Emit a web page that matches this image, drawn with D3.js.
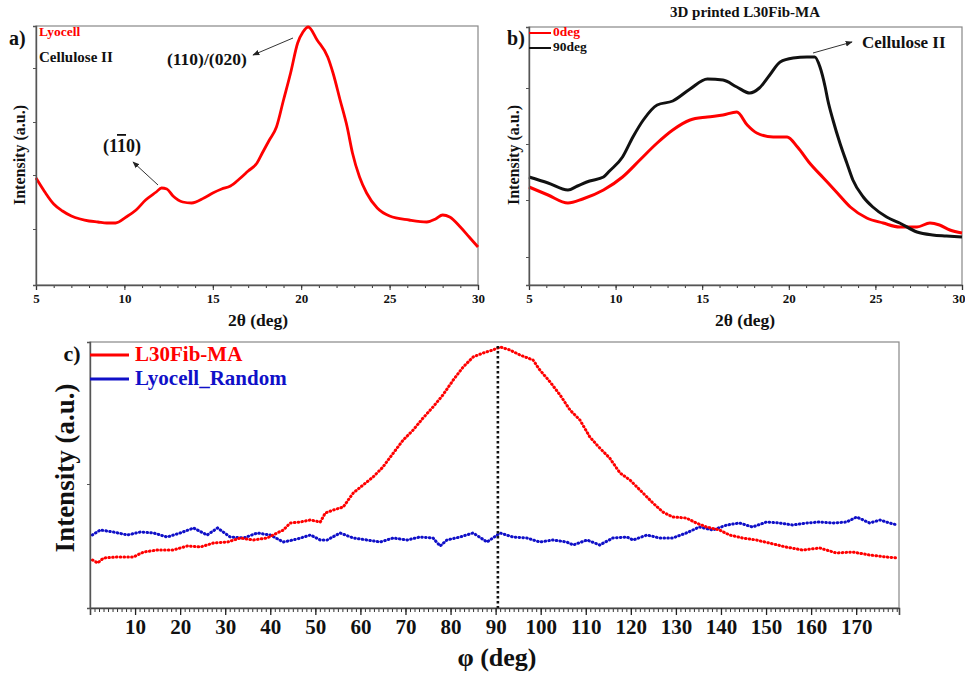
<!DOCTYPE html>
<html><head><meta charset="utf-8">
<script src="https://cdn.jsdelivr.net/npm/d3@7/dist/d3.min.js"></script>
<style>
body{margin:0;background:#fff;}
text{font-family:"Liberation Serif","Times New Roman",serif;font-weight:bold;}
</style></head>
<body><svg id="chart" width="965" height="676"></svg>
<script>
// ---------- DATA ----------
// Panel a: Lyocell XRD (2θ in deg, intensity a.u.)
const aTheta = [5.0,5.5,6.0,6.5,7.0,7.5,8.0,8.5,9.0,9.5,10.1,10.66,11.2,11.8,12.1,12.4,12.75,13.3,13.8,14.5,15.0,15.5,16.0,16.5,17.0,17.5,17.8,18.2,18.6,19.0,19.4,19.8,20.1,20.4,20.9,21.5,21.8,22.2,22.6,22.9,23.3,23.7,24.3,25.0,26.1,27.1,27.6,28.0,28.4,29.0,29.5,30.0];
const aLyocell = [107,93,81,74,69,66,64,63,62,62,68,75,85,93,97,96,89,83,82,87,92,96,99,106,114,122,132,145,158,185,212,242,253,258,245,228,212,185,158,132,108,92,77,69,65,63,66,70,68,58,48,38];
const aYTicks = [56,110,163,217];

// Panel b: 3D printed L30Fib-MA
const bThetaBlack = [5.0,6.1,7.25,7.8,8.5,9.3,9.65,10.4,11.0,11.6,12.4,13.3,14.3,15.3,16.2,17.0,17.75,18.3,18.9,19.5,20.25,21.05,21.5,21.8,22.1,22.25,22.55,22.95,23.35,23.7,24.3,24.85,25.65,26.4,27.4,28.3,29.1,30.0];
const b90deg = [108,102,95,99,104,108,114,128,148,165,180,184,196,206,205,198,192,197,210,223,227,228,228,218,198,185,165,142,122,105,88,78,68,62,53,50,49,48];
const bThetaRed = [5.0,6.1,7.25,8.1,9.3,10.4,11.4,12.4,13.3,14.3,15.3,16.2,17.0,17.6,18.15,19.1,19.9,20.5,21.2,22.0,22.8,23.55,24.5,25.45,26.4,27.4,28.15,28.7,29.3,30.0];
const b0deg = [98,90,82,86,95,108,125,142,155,165,168,170,173,160,152,148,148,138,122,107,92,78,67,62,58,58,62,60,55,52];
const bYTicks = [28,85,141,197];

// Panel c: azimuthal profiles (φ in deg)
const cPhiRed = [0.55,1.7,3.0,6.1,9.6,11.9,15.0,18.5,21.6,24.5,27.4,30.5,33.4,36.2,39.3,41.5,42.9,44.4,46.6,48.9,51.1,52.2,54.0,56.2,58.4,60.6,62.8,65.0,67.3,69.5,71.7,73.9,76.1,78.3,80.6,82.8,85.0,87.2,89.4,91.0,93.2,95.4,98.3,99.8,102.1,104.3,106.5,108.7,110.9,113.1,115.3,117.6,119.8,122.7,124.9,127.1,129.3,132.3,134.5,136.8,139.7,141.9,144.8,147.8,150.7,154.4,158.1,161.9,165.6,169.2,173.0,176.7,179.3];
const cL30FibMA = [48,45,50,51,51,56,58,58,62,61,65,66,70,68,70,75,78,85,86,88,86,95,98,101,115,123,131,141,155,168,178,190,201,213,228,241,251,255,258,261,258,253,248,238,226,213,198,188,171,160,150,135,128,115,105,96,91,90,85,81,78,73,70,68,65,61,58,60,55,56,53,51,50];
const cPhiBlue = [0.5,2.3,5.2,8.3,11.2,14.1,17.1,20.0,23.0,26.0,28.3,31.1,34.1,37.1,40.0,42.9,46.0,48.9,51.1,52.6,55.5,58.4,61.5,64.4,67.3,70.4,73.2,76.1,77.7,79.2,82.1,85.0,88.1,91.0,93.8,96.9,99.8,102.7,105.8,107.2,110.3,113.1,116.0,119.1,120.5,123.6,126.4,129.3,132.3,135.2,138.2,141.3,144.1,147.0,150.1,153.0,155.9,159.0,161.9,164.8,167.9,170.1,173.0,175.3,177.4,179.2];
const cLyocellRandom = [73,78,76,73,76,75,71,75,80,73,80,71,70,75,73,66,69,73,68,68,75,70,68,66,70,68,71,70,62,68,71,75,66,75,71,70,66,68,66,63,68,63,70,71,68,73,70,70,75,81,78,83,85,81,86,85,83,85,86,85,86,91,85,88,85,83];
const cXTicks = [10,20,30,40,50,60,70,80,90,100,110,120,130,140,150,160,170];
const cYTicks = [124];

// ---------- DRAW ----------
const svg = d3.select("#chart");
const RED = "#ff0000", BLUE = "#1010c8";

function zip(xs, ys){ return xs.map((x,i)=>[x,ys[i]]); }
function box(g, x, y){
  const [x0,x1] = x.range(), [y0,y1] = y.range();
  g.append("rect").attr("x",x0).attr("y",y1).attr("width",x1-x0).attr("height",y0-y1)
    .attr("fill","none").attr("stroke","#888").attr("stroke-width",1.2);
}
function xAxisDeg(g, x, y, fs, lastEnd){
  const y0 = y.range()[0];
  const minor = d3.range(5,30.01,1);
  g.append("g").attr("transform",`translate(0,${y0})`)
    .call(d3.axisBottom(x).tickValues(minor).tickSize(3).tickFormat(""))
    .call(s=>s.select(".domain").remove()).selectAll("line").attr("stroke","#333");
  const ax = g.append("g").attr("transform",`translate(0,${y0})`)
    .call(d3.axisBottom(x).tickValues([5,10,15,20,25,30]).tickSize(5).tickPadding(4).tickFormat(d3.format("d")));
  ax.select(".domain").attr("stroke","#555").attr("stroke-width",1.4);
  ax.selectAll("line").attr("stroke","#333");
  ax.selectAll("text").attr("font-size",fs).attr("fill","#111")
    .style("font-family","Liberation Serif").style("font-weight","bold");
  if(lastEnd){
    ax.selectAll("text").filter(d=>d===30).attr("text-anchor","end").attr("dx",3);
  }
}
function yAxisPlain(g, x, y, ticks){
  const ax = g.append("g").attr("transform",`translate(${x.range()[0]},0)`)
    .call(d3.axisLeft(y).tickValues(ticks).tickSize(3).tickFormat(""));
  ax.select(".domain").attr("stroke","#555").attr("stroke-width",1.4);
  ax.selectAll("line").attr("stroke","#555");
}
function arrowDef(){
  svg.append("defs").append("marker").attr("id","arr").attr("viewBox","0 0 10 10")
    .attr("refX",9).attr("refY",5).attr("markerWidth",7).attr("markerHeight",7)
    .attr("orient","auto-start-reverse")
    .append("path").attr("d","M0,1 L10,5 L0,9 Z").attr("fill","#222");
}
arrowDef();
function arrow(x1,y1,x2,y2){
  svg.append("line").attr("x1",x1).attr("y1",y1).attr("x2",x2).attr("y2",y2)
    .attr("stroke","#333").attr("stroke-width",1).attr("marker-end","url(#arr)");
}
function txt(x,y,s,fs,col,anchor,rot){
  const t = svg.append("text").attr("x",x).attr("y",y).attr("font-size",fs)
    .attr("fill",col||"#111").attr("text-anchor",anchor||"start")
    .attr("dominant-baseline","middle").text(s);
  if(rot) t.attr("transform",`rotate(${rot},${x},${y})`);
  return t;
}

// ----- Panel a -----
{
  const x = d3.scaleLinear().domain([5,30]).range([36,478]);
  const y = d3.scaleLinear().domain([0,259]).range([285,26]);
  const g = svg.append("g");
  box(g,x,y);
  g.append("path").datum(zip(aTheta,aLyocell))
    .attr("d",d3.line().x(d=>x(d[0])).y(d=>y(d[1])).curve(d3.curveMonotoneX))
    .attr("fill","none").attr("stroke",RED).attr("stroke-width",2.8).attr("stroke-linejoin","round");
  xAxisDeg(g,x,y,13);
  yAxisPlain(g,x,y,aYTicks);
  txt(9,40,"a)",20,"#111");
  txt(39,33,"Lyocell",13.5,RED);
  txt(39,59,"Cellulose II",15,"#111");
  txt(167,61,"(110)/(020)",17.5,"#111");
  arrow(293,38,253,55);
  const t = txt(103,148,"(1",18,"#111");
  t.append("tspan").attr("text-decoration","overline").text("1");
  t.append("tspan").text("0)");
  arrow(158,185,133,162);
  txt(21,155,"Intensity (a.u.)",16,"#111","middle",-90);
  txt(258,322,"2θ (deg)",17.5,"#111","middle");
}

// ----- Panel b -----
{
  const x = d3.scaleLinear().domain([5,30]).range([529,962]);
  const y = d3.scaleLinear().domain([0,258]).range([285,27]);
  const g = svg.append("g");
  box(g,x,y);
  const line = d3.line().x(d=>x(d[0])).y(d=>y(d[1])).curve(d3.curveMonotoneX);
  g.append("path").datum(zip(bThetaRed,b0deg)).attr("d",line)
    .attr("fill","none").attr("stroke",RED).attr("stroke-width",3).attr("stroke-linejoin","round");
  g.append("path").datum(zip(bThetaBlack,b90deg)).attr("d",line)
    .attr("fill","none").attr("stroke","#111").attr("stroke-width",3).attr("stroke-linejoin","round");
  xAxisDeg(g,x,y,13,true);
  yAxisPlain(g,x,y,bYTicks);
  txt(745,14,"3D printed L30Fib-MA",15,"#111","middle");
  txt(516,40,"b)",20,"#111","middle");
  svg.append("line").attr("x1",529).attr("x2",551).attr("y1",33).attr("y2",33).attr("stroke",RED).attr("stroke-width",2);
  txt(553,33,"0deg",13.5,RED);
  svg.append("line").attr("x1",529).attr("x2",551).attr("y1",48).attr("y2",48).attr("stroke","#111").attr("stroke-width",2);
  txt(553,48,"90deg",13.5,"#111");
  txt(862,44,"Cellulose II",17,"#111");
  arrow(813,53,852,42);
  txt(515,155,"Intensity (a.u.)",16,"#111","middle",-90);
  txt(745,322,"2θ (deg)",17.5,"#111","middle");
}

// ----- Panel c -----
{
  const x = d3.scaleLinear().domain([0,179.5]).range([90,899]);
  const y = d3.scaleLinear().domain([0,266]).range([608,342]);
  const g = svg.append("g");
  box(g,x,y);
  const line = d3.line().x(d=>x(d[0])).y(d=>y(d[1]));
  g.append("path").datum(zip(cPhiBlue,cLyocellRandom)).attr("d",line)
    .attr("fill","none").attr("stroke",BLUE).attr("stroke-width",3)
    .attr("stroke-linecap","round").attr("stroke-dasharray","0.6,3.2");
  g.append("path").datum(zip(cPhiRed,cL30FibMA)).attr("d",line)
    .attr("fill","none").attr("stroke",RED).attr("stroke-width",3)
    .attr("stroke-linecap","round").attr("stroke-dasharray","0.6,3.2");
  g.append("line").attr("x1",x(90.5)).attr("x2",x(90.5)).attr("y1",y(262)).attr("y2",y(0))
    .attr("stroke","#111").attr("stroke-width",2.6).attr("stroke-dasharray","2.5,2.5");
  // x axis
  g.append("g").attr("transform",`translate(0,608)`)
    .call(d3.axisBottom(x).tickValues(d3.range(1,180,1)).tickSize(4).tickFormat(""))
    .call(s=>s.select(".domain").remove()).selectAll("line").attr("stroke","#333");
  const ax = g.append("g").attr("transform",`translate(0,608)`)
    .call(d3.axisBottom(x).tickValues(cXTicks).tickSize(7).tickPadding(4).tickFormat(d3.format("d")));
  ax.select(".domain").attr("stroke","#444").attr("stroke-width",1.6);
  ax.selectAll("line").attr("stroke","#222").attr("stroke-width",1.3);
  ax.selectAll("text").attr("font-size",21).attr("fill","#111")
    .style("font-family","Liberation Serif").style("font-weight","bold");
  yAxisPlain(g,x,y,cYTicks);
  // legend
  svg.append("line").attr("x1",90).attr("x2",129).attr("y1",355).attr("y2",355).attr("stroke",RED).attr("stroke-width",3);
  txt(135,356,"L30Fib-MA",21,RED);
  svg.append("line").attr("x1",90).attr("x2",129).attr("y1",379).attr("y2",379).attr("stroke",BLUE).attr("stroke-width",3);
  txt(135,380,"Lyocell_Random",21,BLUE);
  txt(72,356,"c)",22,"#111","middle");
  txt(68,468,"Intensity (a.u.)",27,"#111","middle",-90);
  txt(497,660,"φ (deg)",26,"#111","middle");
}
</script></body></html>
